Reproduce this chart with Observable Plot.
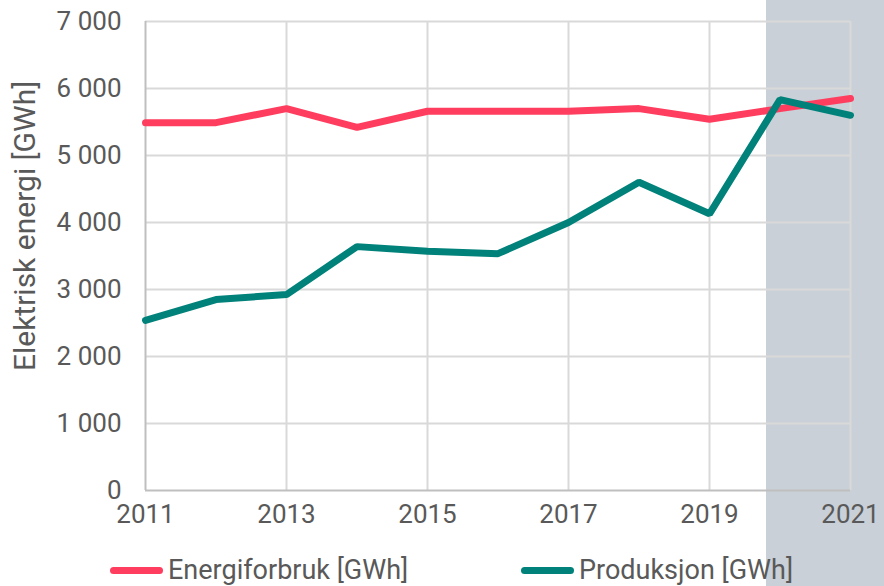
<!DOCTYPE html>
<html>
<head>
<meta charset="utf-8">
<script src="https://cdn.jsdelivr.net/npm/d3@7"></script>
<script src="https://cdn.jsdelivr.net/npm/@observablehq/plot@0.6"></script>
<style>
  html, body { margin: 0; padding: 0; }
  #wrap {
    width: 884px; height: 586px; position: relative; overflow: hidden;
    background: linear-gradient(to right, #ffffff 0px, #ffffff 766px, #c9d0d7 766px, #c9d0d7 884px);
    font-family: Roboto, "Liberation Sans", sans-serif;
    color: #595959;
  }
  #legend {
    height: 40px; position: relative; font-size: 27px; color: #595959;
  }
  .item { position: absolute; top: 8px; display: flex; align-items: center; line-height: 32px; }
  .sw { width: 53px; height: 7px; border-radius: 4px; margin-right: 5px; }
</style>
</head>
<body>
<div id="wrap">
  <div id="chart"></div>
  <div id="legend"></div>
</div>
<script>
const years = [2011, 2012, 2013, 2014, 2015, 2016, 2017, 2018, 2019, 2020, 2021];
const energiforbruk = [5490, 5490, 5700, 5420, 5660, 5660, 5660, 5700, 5540, 5700, 5850];
const produksjon = [2540, 2850, 2925, 3640, 3570, 3535, 4000, 4600, 4130, 5835, 5600];
const seriesNames = ["Energiforbruk [GWh]", "Produksjon [GWh]"];
const seriesColors = ["#ff3d5f", "#00827a"];
const xTicks = [2011, 2013, 2015, 2017, 2019, 2021];
const yTicks = [0, 1000, 2000, 3000, 4000, 5000, 6000, 7000];
const yLabel = "Elektrisk energi [GWh]";

const nb = d3.formatLocale({decimal: ",", thousands: " ", grouping: [3], currency: ["", ""]});
const fmt = nb.format(",");

const rows = [];
years.forEach((y, i) => {
  rows.push({year: y, value: energiforbruk[i], series: seriesNames[0]});
});
years.forEach((y, i) => {
  rows.push({year: y, value: produksjon[i], series: seriesNames[1]});
});

const chart = Plot.plot({
  width: 884,
  height: 546,
  marginLeft: 145,
  marginRight: 34,
  marginTop: 21,
  marginBottom: 56,
  style: {background: "transparent", fontFamily: "Roboto, 'Liberation Sans', sans-serif", fontSize: "26px", color: "#595959"},
  x: {domain: [2011, 2021], ticks: xTicks, tickFormat: d => String(d), tickSize: 0, tickPadding: 14, label: null},
  y: {domain: [0, 7000], ticks: yTicks, tickFormat: fmt, tickSize: 0, tickPadding: 24, label: null},
  color: {domain: seriesNames, range: seriesColors},
  marks: [
    Plot.gridY(yTicks.filter(d => d > 0), {stroke: "#d9d9d9", strokeOpacity: 1, strokeWidth: 2}),
    Plot.gridX(xTicks.filter(d => d > 2011), {stroke: "#d9d9d9", strokeOpacity: 1, strokeWidth: 2}),
    Plot.ruleX([2011], {stroke: "#bfbfbf", strokeWidth: 2}),
    Plot.ruleY([0], {stroke: "#bfbfbf", strokeWidth: 2}),
    Plot.axisX({ticks: xTicks, tickFormat: d => String(d), tickSize: 0, tickPadding: 14, fill: "#595959", fontSize: 26, label: null}),
    Plot.axisY({ticks: yTicks, tickFormat: fmt, tickSize: 0, tickPadding: 24, fill: "#595959", fontSize: 26, label: null}),
    Plot.line(rows, {x: "year", y: "value", z: "series", stroke: "series", strokeWidth: 7, strokeLinejoin: "miter", strokeLinecap: "round"}),
    Plot.text([yLabel], {frameAnchor: "left", textAnchor: "middle", dx: -120, dy: -30, rotate: -90, fontSize: 30, fill: "#595959"})
  ]
});
document.getElementById("chart").appendChild(chart);

const legend = document.getElementById("legend");
const lefts = [110, 521];
seriesNames.forEach((name, i) => {
  const it = document.createElement("div");
  it.className = "item";
  it.style.left = lefts[i] + "px";
  const sw = document.createElement("div");
  sw.className = "sw";
  sw.style.background = seriesColors[i];
  const tx = document.createElement("span");
  tx.textContent = name;
  it.appendChild(sw); it.appendChild(tx);
  legend.appendChild(it);
});
</script>
</body>
</html>
